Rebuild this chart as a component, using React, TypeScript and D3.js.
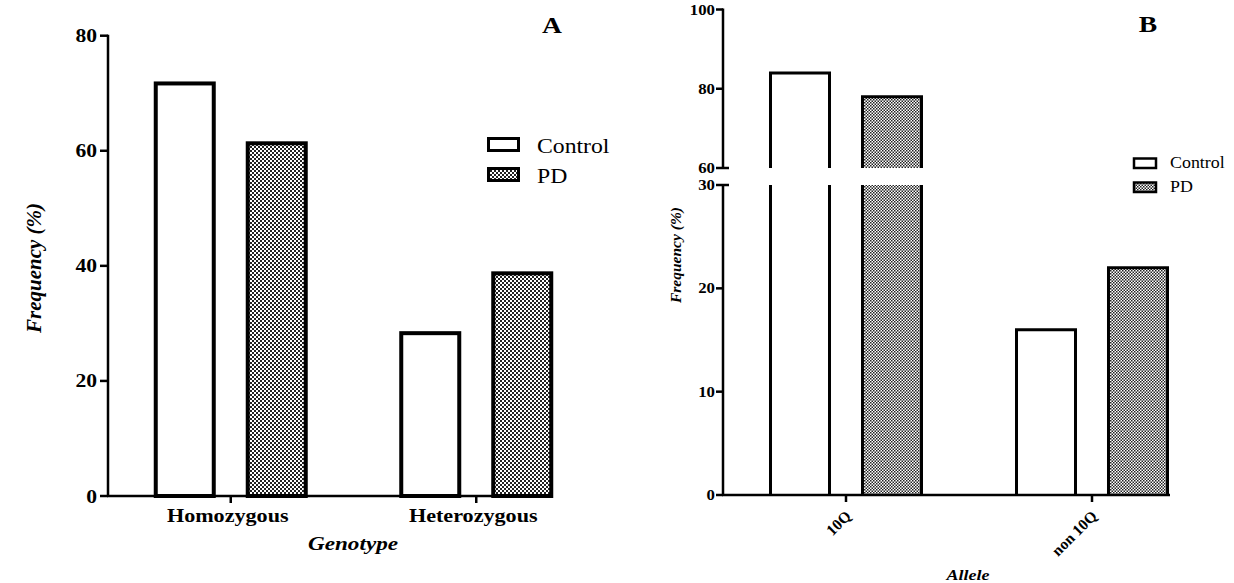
import React from "react";
import * as d3 from "d3";

// ---------- data ----------
const genotypes = ["Homozygous", "Heterozygous"];
const groups = ["Control", "PD"];
const genotypeControl = [71.7, 28.3];
const genotypePD = [61.3, 38.7];
const alleles = ["10Q", "non 10Q"];
const alleleControl = [84, 16];
const allelePD = [78, 22];
const ticksA = [0, 20, 40, 60, 80];
const ticksBLower = [0, 10, 20, 30];
const ticksBUpper = [60, 80, 100];

const FONT = "'Liberation Serif', 'Times New Roman', serif";

function SText({ x, y, sx = 1.2, size, anchor = "start", weight = "bold", italic = false, children }: any) {
  return (
    <text
      transform={`translate(${x},${y}) scale(${sx},1)`}
      textAnchor={anchor}
      fontFamily={FONT}
      fontSize={size}
      fontWeight={weight}
      fontStyle={italic ? "italic" : "normal"}
      fill="#000"
    >
      {children}
    </text>
  );
}

function PanelA() {
  const y = d3.scaleLinear().domain([0, 80]).range([496, 35.7]);
  const x = d3.scalePoint<string>().domain(genotypes).range([108, 599]).padding(0.5);
  const inner = d3.scaleBand<string>().domain(groups).range([-77, 77]).paddingInner(0.326).paddingOuter(0);
  const series = [genotypeControl, genotypePD];
  const axX0 = 108, axX1 = 553;
  return (
    <g>
      {genotypes.map((g, i) =>
        groups.map((s, j) => {
          const v = series[j][i];
          const bx = (x(g) as number) + (inner(s) as number);
          return (
            <rect
              key={g + s}
              x={bx + 2}
              y={y(v)}
              width={inner.bandwidth() - 4}
              height={y(0) - y(v)}
              fill={j === 0 ? "#fff" : "url(#checkA)"}
              stroke="#000"
              strokeWidth={4}
            />
          );
        })
      )}
      <line x1={axX0} x2={axX0} y1={y(80) - 1} y2={y(0) + 1} stroke="#000" strokeWidth={2.5} />
      {ticksA.map((t) => (
        <g key={t}>
          <line x1={axX0 - 8} x2={axX0} y1={y(t)} y2={y(t)} stroke="#000" strokeWidth={2.5} />
          <SText x={97} y={y(t) + 6.5} size={18} anchor="end">{t}</SText>
        </g>
      ))}
      <line x1={axX0 - 1} x2={axX1} y1={y(0)} y2={y(0)} stroke="#000" strokeWidth={2.5} />
      {genotypes.map((g) => (
        <g key={g}>
          <line x1={x(g)} x2={x(g)} y1={y(0)} y2={y(0) + 7} stroke="#000" strokeWidth={2.5} />
          <SText x={(x(g) as number) - 3} y={522} size={18} anchor="middle" sx={1.23}>{g}</SText>
        </g>
      ))}
      <SText x={353} y={550} size={19} anchor="middle" italic sx={1.22}>Genotype</SText>
      <text
        transform={`translate(41,268) rotate(-90)`}
        textAnchor="middle"
        fontFamily={FONT}
        fontSize={21}
        fontStyle="italic"
        fontWeight="bold"
      >
        Frequency (%)
      </text>
      <SText x={552} y={33} size={23} anchor="middle">A</SText>
      {groups.map((s, j) => (
        <g key={s}>
          <rect x={488.5} y={138.5 + j * 30} width={30} height={12} fill={j === 0 ? "#fff" : "url(#checkA)"} stroke="#000" strokeWidth={3} />
          <SText x={537} y={153 + j * 30} size={21} weight="normal" sx={1.13}>{s}</SText>
        </g>
      ))}
    </g>
  );
}

function PanelB() {
  const yLow = d3.scaleLinear().domain([0, 30]).range([495, 185]);
  const yUp = d3.scaleLinear().domain([60, 100]).range([168, 9.5]);
  const x = d3.scalePoint<string>().domain(alleles).range([723, 1215]).padding(0.5);
  const inner = d3.scaleBand<string>().domain(groups).range([-77, 77]).paddingInner(0.326).paddingOuter(0);
  const series = [alleleControl, allelePD];
  const axX = 723, axX1 = 1170;
  const sw = 3;
  return (
    <g>
      {alleles.map((a, i) =>
        groups.map((s, j) => {
          const v = series[j][i];
          const x0 = (x(a) as number) + (inner(s) as number) + 1.5;
          const x1 = x0 + inner.bandwidth() - 3;
          const fill = j === 0 ? "#fff" : "url(#checkB)";
          const lowTop = v > 30 ? yLow(30) : yLow(v);
          return (
            <g key={a + s}>
              <rect x={x0} y={lowTop} width={x1 - x0} height={yLow(0) - lowTop} fill={fill} />
              {v > 30 ? (
                <path d={`M${x0},${yLow(0)}V${lowTop}M${x1},${lowTop}V${yLow(0)}`} fill="none" stroke="#000" strokeWidth={sw} />
              ) : (
                <path d={`M${x0},${yLow(0)}V${lowTop}H${x1}V${yLow(0)}`} fill="none" stroke="#000" strokeWidth={sw} />
              )}
              {v > 60 && (
                <g>
                  <rect x={x0} y={yUp(v)} width={x1 - x0} height={yUp(60) - yUp(v)} fill={fill} />
                  <path d={`M${x0},${yUp(60)}V${yUp(v)}H${x1}V${yUp(60)}`} fill="none" stroke="#000" strokeWidth={sw} />
                </g>
              )}
            </g>
          );
        })
      )}
      <line x1={axX} x2={axX} y1={yUp(100) - 1} y2={yUp(60)} stroke="#000" strokeWidth={2.5} />
      <line x1={axX} x2={axX} y1={yLow(30)} y2={yLow(0) + 1} stroke="#000" strokeWidth={2.5} />
      {ticksBUpper.map((t) => (
        <g key={"u" + t}>
          <line x1={axX - 7} x2={t === 60 ? axX + 6 : axX} y1={yUp(t)} y2={yUp(t)} stroke="#000" strokeWidth={2.5} />
          <SText x={715} y={yUp(t) + 5} size={14} anchor="end" sx={1.2}>{t}</SText>
        </g>
      ))}
      {ticksBLower.map((t) => (
        <g key={"l" + t}>
          <line x1={axX - 7} x2={t === 30 ? axX + 6 : axX} y1={yLow(t)} y2={yLow(t)} stroke="#000" strokeWidth={2.5} />
          <SText x={715} y={yLow(t) + 5} size={14} anchor="end" sx={1.2}>{t}</SText>
        </g>
      ))}
      <line x1={axX - 1} x2={axX1} y1={yLow(0)} y2={yLow(0)} stroke="#000" strokeWidth={2.5} />
      {alleles.map((a) => (
        <g key={a}>
          <line x1={x(a)} x2={x(a)} y1={yLow(0)} y2={yLow(0) + 7} stroke="#000" strokeWidth={2.5} />
          <text
            transform={`translate(${(x(a) as number) + 6},${yLow(0) + 22}) rotate(-45)`}
            textAnchor="end"
            fontFamily={FONT}
            fontSize={15.5}
            fontWeight="bold"
          >
            {a}
          </text>
        </g>
      ))}
      <SText x={968} y={580} size={15} anchor="middle" italic sx={1.2}>Allele</SText>
      <text
        transform={`translate(681,255) rotate(-90)`}
        textAnchor="middle"
        fontFamily={FONT}
        fontSize={15.5}
        fontStyle="italic"
        fontWeight="bold"
      >
        Frequency (%)
      </text>
      <SText x={1148} y={32} size={23} anchor="middle">B</SText>
      {groups.map((s, j) => (
        <g key={s}>
          <rect x={1134} y={158.5 + j * 24} width={22} height={9.5} fill={j === 0 ? "#fff" : "url(#checkB)"} stroke="#000" strokeWidth={2.5} />
          <SText x={1170} y={168 + j * 24} size={16} weight="normal" sx={1.12}>{s}</SText>
        </g>
      ))}
    </g>
  );
}

export default function App() {
  return (
    <svg
      width={1234}
      height={583}
      viewBox="0 0 1234 583"
      style={{ position: "absolute", left: 0, top: 0, background: "#fff" }}
    >
      <defs>
        <pattern id="checkA" patternUnits="userSpaceOnUse" width={4} height={4}>
          <rect width={4} height={4} fill="#fff" />
          <rect x={0} y={0} width={2} height={2} fill="#222" />
          <rect x={2} y={2} width={2} height={2} fill="#222" />
        </pattern>
        <pattern id="checkB" patternUnits="userSpaceOnUse" width={3} height={3}>
          <rect width={3} height={3} fill="#fff" />
          <rect x={0} y={0} width={1.5} height={1.5} fill="#222" />
          <rect x={1.5} y={1.5} width={1.5} height={1.5} fill="#222" />
        </pattern>
      </defs>
      <rect width={1234} height={583} fill="#fff" />
      <PanelA />
      <PanelB />
    </svg>
  );
}
